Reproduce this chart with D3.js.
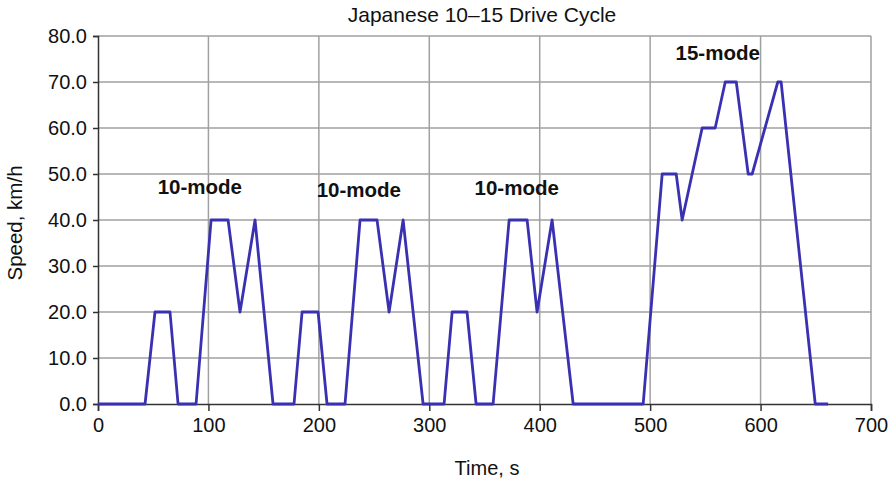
<!DOCTYPE html>
<html>
<head>
<meta charset="utf-8">
<script src="https://cdn.jsdelivr.net/npm/d3@7"></script>
<style>
  body { margin: 0; background: #fff; }
  text { font-family: "Liberation Sans", Arial, sans-serif; }
</style>
</head>
<body>
<main></main>
<script>
// Speed trace (time in s, speed in km/h)
var timeS = [0, 42.6, 51.6, 65.2, 72.5, 88.8, 102.4, 117.8, 128.6, 142.2, 158.5,
             177.5, 184.8, 199.3, 207.4, 223.7, 237.3, 252.7, 263.6, 276.3, 294.4,
             313.4, 320.7, 334.2, 342.4, 357.8, 372.3, 388.6, 397.6, 411.2, 430.3,
             493.7, 510.9, 523.6, 529.0, 547.1, 558.9, 568.0, 578.0, 588.8, 592.4,
             615.6, 618.6, 649.5, 661.2];
var speedKmh = [0, 0, 20, 20, 0, 0, 40, 40, 20, 40, 0,
                0, 20, 20, 0, 0, 40, 40, 20, 40, 0,
                0, 20, 20, 0, 0, 40, 40, 20, 40, 0,
                0, 50, 50, 40, 60, 60, 70, 70, 50, 50,
                70, 70, 0, 0];

var xTicks = [0, 100, 200, 300, 400, 500, 600, 700];
var yTicks = [0, 10, 20, 30, 40, 50, 60, 70, 80];

var labels = ["10-mode", "10-mode", "10-mode", "15-mode"];
var labelTime = [54, 198, 341, 523];
var labelSpeed = [45.7, 44.9, 45.5, 74.7];

var W = 890, H = 481;
var svg = d3.select("main").append("svg")
            .attr("width", W)
            .attr("height", H);

var x = d3.scaleLinear().domain([0, 700]).range([98, 871]);
var y = d3.scaleLinear().domain([0, 80]).range([404, 36]);

// grid lines
svg.append("g").selectAll("line.v")
   .data(xTicks.slice(1))
   .enter().append("line")
   .attr("x1", function (d) { return x(d); })
   .attr("x2", function (d) { return x(d); })
   .attr("y1", y(0))
   .attr("y2", y(80))
   .style("stroke", "#a0a0a0")
   .style("stroke-width", 1.5);

svg.append("g").selectAll("line.h")
   .data(yTicks.slice(1))
   .enter().append("line")
   .attr("x1", x(0))
   .attr("x2", x(700))
   .attr("y1", function (d) { return y(d); })
   .attr("y2", function (d) { return y(d); })
   .style("stroke", "#a0a0a0")
   .style("stroke-width", 1.5);

// axes
var yAxis = svg.append("g")
               .attr("transform", "translate(" + x(0) + ",0)")
               .call(d3.axisLeft(y).tickValues(yTicks).tickSize(5).tickPadding(6).tickFormat(d3.format(".1f")));
var xAxis = svg.append("g")
               .attr("transform", "translate(0," + y(0) + ")")
               .call(d3.axisBottom(x).tickValues(xTicks).tickSize(7).tickPadding(7).tickFormat(d3.format("d")));

[xAxis, yAxis].forEach(function (a) {
    a.select(".domain").style("stroke", "#333").style("stroke-width", 1.5);
    a.selectAll(".tick line").style("stroke", "#333").style("stroke-width", 1.5);
    a.selectAll(".tick text")
     .style("font-family", "'Liberation Sans', Arial, sans-serif")
     .style("font-size", "20px")
     .style("fill", "#111");
});

// speed trace
var pts = timeS.map(function (t, i) { return [t, speedKmh[i]]; });
var line = d3.line()
             .x(function (d) { return x(d[0]); })
             .y(function (d) { return y(d[1]); });

svg.append("path")
   .datum(pts)
   .attr("d", line)
   .style("fill", "none")
   .style("stroke", "#3a31b2")
   .style("stroke-width", 2.8)
   .style("stroke-linejoin", "round");

// mode labels
svg.append("g").selectAll("text")
   .data(labels)
   .enter().append("text")
   .attr("x", function (d, i) { return x(labelTime[i]); })
   .attr("y", function (d, i) { return y(labelSpeed[i]); })
   .style("font-size", "20.5px")
   .style("font-weight", "bold")
   .style("fill", "#111")
   .text(function (d) { return d; });

// titles
svg.append("text")
   .attr("x", 482)
   .attr("y", 22)
   .attr("text-anchor", "middle")
   .style("font-size", "21px")
   .style("fill", "#111")
   .text("Japanese 10\u201315 Drive Cycle");

svg.append("text")
   .attr("x", 487)
   .attr("y", 475)
   .attr("text-anchor", "middle")
   .style("font-size", "20px")
   .style("fill", "#111")
   .text("Time, s");

svg.append("text")
   .attr("transform", "translate(22,223) rotate(-90)")
   .attr("text-anchor", "middle")
   .style("font-size", "20.5px")
   .style("fill", "#111")
   .text("Speed, km/h");
</script>
</body>
</html>
